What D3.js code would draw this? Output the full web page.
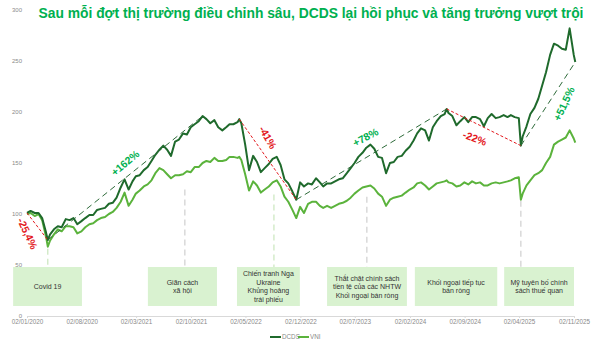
<!DOCTYPE html>
<html><head><meta charset="utf-8">
<script src="https://cdn.jsdelivr.net/npm/d3@7"></script>
<style>body{margin:0;background:#fff}svg{display:block}</style>
</head><body><svg id="c" width="600" height="347"></svg>
<script>
const title = "Sau mỗi đợt thị trường điều chỉnh sâu, DCDS lại hồi phục và tăng trưởng vượt trội";
const dates = [
"2020-01-02","2020-01-16","2020-02-01","2020-02-16","2020-03-01","2020-03-16","2020-03-23","2020-04-01","2020-04-16","2020-05-01","2020-05-16","2020-06-01","2020-06-16","2020-07-01","2020-07-16","2020-08-01","2020-08-16","2020-09-01","2020-09-16","2020-10-01","2020-10-16","2020-11-01","2020-11-16","2020-12-01","2020-12-16",
"2021-01-01","2021-01-16","2021-02-01","2021-02-16","2021-03-01","2021-03-16","2021-04-01","2021-04-16","2021-05-01","2021-05-16","2021-06-01","2021-06-16","2021-07-01","2021-07-16","2021-08-01","2021-08-16","2021-09-01","2021-09-16","2021-10-01","2021-10-16","2021-11-01","2021-11-16","2021-12-01","2021-12-16",
"2022-01-01","2022-01-16","2022-02-01","2022-02-16","2022-03-01","2022-03-16","2022-04-01","2022-04-08","2022-04-16","2022-05-01","2022-05-16","2022-06-01","2022-06-16","2022-07-01","2022-07-16","2022-08-01","2022-08-16","2022-09-01","2022-09-16","2022-10-01","2022-10-16","2022-11-01","2022-11-16","2022-12-01","2022-12-16",
"2023-01-01","2023-01-16","2023-02-01","2023-02-16","2023-03-01","2023-03-16","2023-04-01","2023-04-16","2023-05-01","2023-05-16","2023-06-01","2023-06-16","2023-07-01","2023-07-16","2023-08-01","2023-08-16","2023-09-01","2023-09-16","2023-10-01","2023-10-16","2023-11-01","2023-11-16","2023-12-01","2023-12-16",
"2024-01-01","2024-01-16","2024-02-01","2024-02-16","2024-03-01","2024-03-16","2024-04-01","2024-04-16","2024-05-01","2024-05-16","2024-06-01","2024-06-16","2024-06-24","2024-07-01","2024-07-16","2024-08-01","2024-08-16","2024-09-01","2024-09-16","2024-10-01","2024-10-16","2024-11-01","2024-11-16","2024-12-01","2024-12-16",
"2025-01-01","2025-01-16","2025-02-01","2025-02-16","2025-03-01","2025-03-16","2025-04-01","2025-04-09","2025-04-16","2025-05-01","2025-05-16","2025-06-01","2025-06-16","2025-07-01","2025-07-16","2025-08-01","2025-08-16","2025-09-01","2025-09-16","2025-10-01","2025-10-16","2025-11-01","2025-11-07"];
const dcds = [
101,103,101,101,96,82,74.5,80,85,88,87,95,94,96,90,93,96,99,99,104,105,106,110,111,116,
126,134,124,132,137,138,143,146,152,158,163,167,163,157,171,173,179,178,185,188,191,196,193,189,
192,185,182,185,188,188,190,193,189,168,143,157,151,141,145,149,154,156,148,134,130,122,114,131,127,
130,129,135,131,127,130,130,132,134,135,140,145,150,156,160,165,168,164,156,155,140,150,151,156,
157,162,166,172,179,184,182,172,185,191,196,198,203,199,196,187,191,195,190,195,195,193,186,194,198,
194,195,197,195,197,195,194,167,176,186,198,204,213,226,239,256,267,265,262,261,282,256,249];
const vni = [
100,101,98,100,94,78,68,74,80,85,83,88,88,87,81,83,87,90,91,94,96,97,100,102,106,
112,121,108,114,120,123,127,129,133,140,145,143,139,135,138,138,139,142,141,146,146,150,152,151,
155,152,152,153,156,156,155,156,153,139,123,132,128,121,124,127,131,133,127,117,112,104,96,107,101,
110,112,112,108,106,108,106,108,110,111,113,116,120,123,126,127,128,125,120,117,108,114,116,117,
118,121,124,126,130,131,128,124,127,130,131,132,133,131,130,127,128,131,129,132,130,131,128,128,130,
131,130,131,132,133,135,136,114,120,128,133,138,140,143,150,156,168,171,173,175,182,174,170];
const yTicks = [0,50,100,150,200,250,300];
const xTickLabels = ["02/01/2020","02/08/2020","02/03/2021","02/10/2021","02/05/2022","02/12/2022","02/07/2023","02/02/2024","02/09/2024","02/04/2025","02/11/2025"];
const trendFrom = [["2020-01-02",101],["2020-03-23",74.5],["2022-04-08",193],["2022-11-16",114],["2024-06-24",203],["2025-04-09",167]];
const trendTo   = [["2020-03-23",74.5],["2021-11-16",196],["2022-11-16",114],["2024-06-24",203],["2025-04-09",167],["2025-11-07",249]];
const trendLabels = ["-25,4%","+162%","-41%","+78%","-22%","+51,5%"];
const markerDates = ["2020-03-23","2021-09-08","2022-08-21","2023-08-18","2025-04-09"];
const markerValues = [66,124,119,117,113];
const boxStart = ["2019-11-09","2021-04-17","2022-03-30","2023-03-16","2024-02-21","2025-02-03"];
const boxEnd   = ["2020-08-03","2022-01-11","2022-11-30","2024-01-21","2025-01-07","2025-11-02"];
const boxTexts = [["Covid 19"],["Giãn cách","xã hội"],["Chiến tranh Nga","Ukraine","Khủng hoảng","trái phiếu"],["Thắt chặt chính sách","tiền tệ của các NHTW","Khối ngoại bán ròng"],["Khối ngoại tiếp tục","bán ròng"],["Mỹ tuyên bố chính","sách thuế quan"]];
const seriesNames = ["DCDS","VNI"];

const parse = d3.timeParse("%Y-%m-%d");
const parseTick = d3.timeParse("%d/%m/%Y");
const svg = d3.select("#c");
const FONT = "'Liberation Sans', Arial, sans-serif";
const x = d3.scaleTime().domain([parseTick("02/01/2020"), parseTick("02/11/2025")]).range([27, 574]);
const y = d3.scaleLinear().domain([0,300]).range([316,10]);
const DARK = "#1f6a2c", LIGHT = "#5bb33c", RED = "#e3191e", LGREEN = "#00b050";

// title
const t = svg.append("text").attr("x", 311).attr("y", 18).attr("text-anchor","middle")
  .attr("font-family", FONT).attr("font-weight","bold").attr("fill", "#00b050").attr("font-size", 13).text(title);
const tw = t.node().getComputedTextLength();
t.attr("font-size", 13*545/tw);

// y axis labels
svg.append("g").selectAll("text").data(yTicks).join("text")
  .attr("x", 22).attr("y", d => y(d)+2).attr("text-anchor","end")
  .attr("font-family", FONT).attr("font-size", 6).attr("fill","#8a8a8a").text(d => d);

// x axis
const xTickDates = xTickLabels.map(parseTick);
const xAxis = d3.axisBottom(x).tickValues(xTickDates).tickFormat((d,i) => xTickLabels[i]).tickSize(2).tickSizeOuter(0);
const gx = svg.append("g").attr("transform","translate(0,316)").call(xAxis);
gx.select(".domain").attr("stroke","#d9d9d9");
gx.selectAll(".tick line").attr("stroke","#d9d9d9");
gx.selectAll(".tick text").attr("font-family", FONT).attr("font-size", 6.3).attr("fill","#8a8a8a").attr("dy", "0.5em");

// event markers
const boxTop = 267, boxBottom = 306;
markerDates.forEach((d,i) => {
  const xd = x(parse(d));
  svg.append("line").attr("x1", xd).attr("x2", xd).attr("y1", y(markerValues[i])).attr("y2", boxTop)
    .attr("stroke", (i===0||i===2) ? "#c9e6bd" : "#cfcfcf").attr("stroke-width", 1.2).attr("stroke-dasharray","6,4");
});
boxStart.forEach((d,i) => {
  const x0 = x(parse(d)), x1 = x(parse(boxEnd[i]));
  svg.append("rect").attr("x", x0).attr("y", boxTop).attr("width", x1-x0).attr("height", boxBottom-boxTop).attr("fill","#d9f2d0");
  const lines = boxTexts[i];
  const lh = 8.5;
  const cy = (boxTop+boxBottom)/2 - (lines.length-1)*lh/2;
  lines.forEach((s,j) => {
    svg.append("text").attr("x", (x0+x1)/2).attr("y", cy + j*lh + 2.5).attr("text-anchor","middle")
      .attr("font-family", FONT).attr("font-size", 7).attr("fill","#333").text(s);
  });
});

// series
const line = d3.line().x((d,i) => x(parse(dates[i]))).y(d => y(d));
svg.append("path").attr("d", line(vni)).attr("fill","none").attr("stroke", LIGHT).attr("stroke-width", 2).attr("stroke-linejoin","round");
svg.append("path").attr("d", line(dcds)).attr("fill","none").attr("stroke", DARK).attr("stroke-width", 2).attr("stroke-linejoin","round");

// trend annotations
const labelOff = [[-10,7],[0,-15],[0,-22],[-6,-17],[-9,11],[16,0]];
const labelRot = [65,-40,60,-28,20,-65];
trendFrom.forEach((f,i) => {
  const p0 = [x(parse(f[0])), y(f[1])], p1 = [x(parse(trendTo[i][0])), y(trendTo[i][1])];
  const neg = trendLabels[i][0] === "-";
  svg.append("line").attr("x1", p0[0]).attr("y1", p0[1]).attr("x2", p1[0]).attr("y2", p1[1])
    .attr("stroke", neg ? RED : "#2e6b3a").attr("stroke-width", 1).attr("stroke-dasharray", neg ? "3,2" : "6,4");
  const mx = (p0[0]+p1[0])/2 + labelOff[i][0], my = (p0[1]+p1[1])/2 + labelOff[i][1];
  svg.append("text").attr("transform", `translate(${mx},${my}) rotate(${labelRot[i]})`)
    .attr("text-anchor","middle").attr("dy","0.35em").attr("font-family", FONT).attr("font-weight","bold")
    .attr("font-size", 10.5).attr("fill", neg ? RED : LGREEN).text(trendLabels[i]);
});

// legend
const lg = svg.append("g");
[[270,DARK],[298,LIGHT]].forEach((p,i) => {
  lg.append("line").attr("x1", p[0]).attr("x2", p[0]+11).attr("y1", 337).attr("y2", 337).attr("stroke", p[1]).attr("stroke-width", 2);
  lg.append("text").attr("x", p[0]+12).attr("y", 339.2).attr("font-family", FONT).attr("font-size", 6.3).attr("fill","#8a8a8a").text(seriesNames[i]);
});
</script></body></html>
